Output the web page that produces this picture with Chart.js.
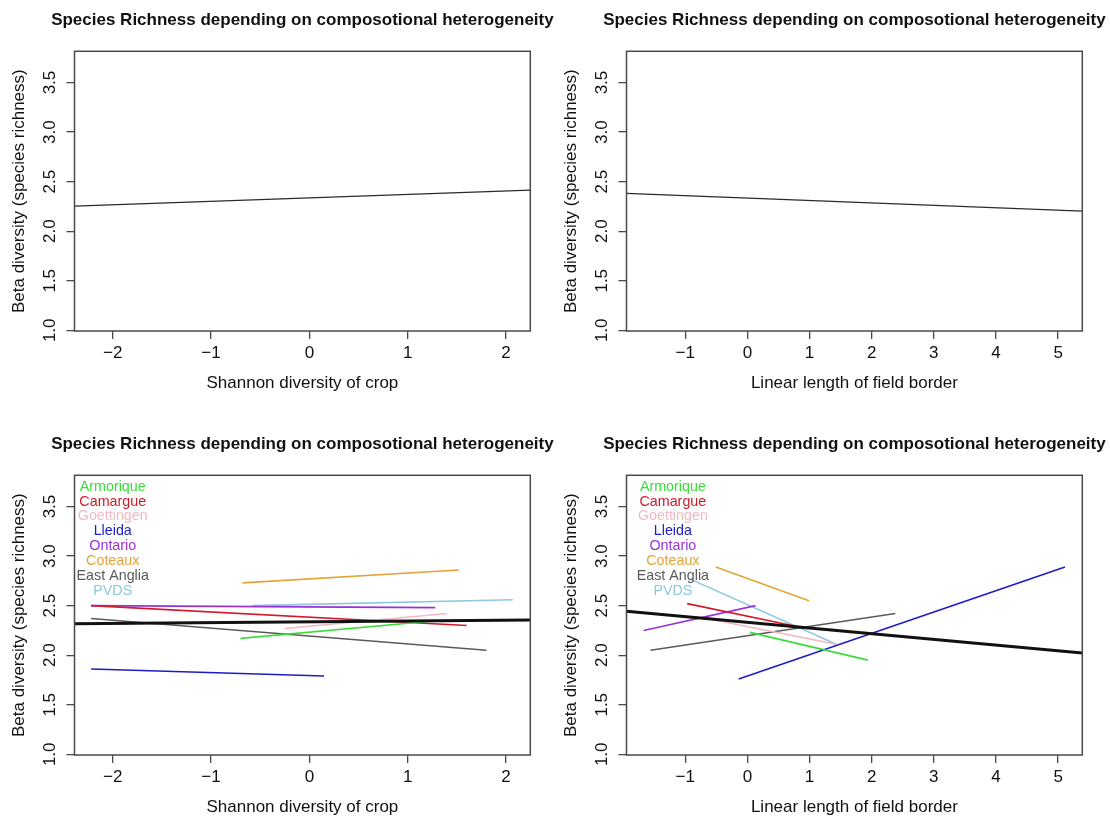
<!DOCTYPE html>
<html>
<head>
    <script src="https://cdn.jsdelivr.net/npm/chart.js@4.4.0/dist/chart.umd.min.js"></script>
    <title>Species Richness</title>
    <style>
        body { margin: 0; background: #fff; overflow: hidden; }
        canvas { position: absolute; }
    </style>
</head>
<body>

<canvas id="panelTL" width="562" height="396" style="left:0;top:0"></canvas>
<canvas id="panelTR" width="558" height="396" style="left:552px;top:0"></canvas>
<canvas id="panelBL" width="562" height="396" style="left:0;top:424px"></canvas>
<canvas id="panelBR" width="558" height="396" style="left:552px;top:424px"></canvas>

<script>
    var mainTitle = 'Species Richness depending on composotional heterogeneity';
    var yTitle = 'Beta diversity (species richness)';
    var cropTitle = 'Shannon diversity of crop';
    var borderTitle = 'Linear length of field border';

    var yTicks = [1.0, 1.5, 2.0, 2.5, 3.0, 3.5];
    var cropTicks = [-2, -1, 0, 1, 2];
    var borderTicks = [-1, 0, 1, 2, 3, 4, 5];

    var siteNames = ['Armorique', 'Camargue', 'Goettingen', 'Lleida', 'Ontario', 'Coteaux', 'East Anglia', 'PVDS'];
    var siteColors = ['#3bdc3b', '#d11a2a', '#f2b8c6', '#1c1cc8', '#9b30d8', '#e3a33a', '#5a5a5a', '#8cc8e0'];
    var labelY = [3.7, 3.55, 3.4, 3.25, 3.1, 2.95, 2.8, 2.65];

    // overall fitted lines (start / end)
    var cropFitX = [-2.389, 2.247];
    var cropFitY = [2.253, 2.414];
    var borderFitX = [-1.946, 5.389];
    var borderFitY = [2.381, 2.203];

    // bottom left: crop diversity, overall + per site
    var cropAllY = [2.316, 2.356];
    var cropSiteX0 = [-0.70, -2.22, -0.25, -2.22, -2.22, -0.68, -2.22, -0.58];
    var cropSiteX1 = [1.20, 1.60, 1.40, 0.15, 1.28, 1.52, 1.80, 2.07];
    var cropSiteY0 = [2.17, 2.50, 2.27, 1.86, 2.50, 2.73, 2.37, 2.50];
    var cropSiteY1 = [2.34, 2.30, 2.42, 1.79, 2.48, 2.86, 2.05, 2.56];

    // bottom right: field border, overall + per site
    var borderAllY = [2.443, 2.022];
    var borderSiteX0 = [0.04, -0.97, -0.66, -0.14, -1.67, -0.51, -1.56, -0.93];
    var borderSiteX1 = [1.94, 0.95, 1.43, 5.11, 0.13, 0.99, 2.38, 1.43];
    var borderSiteY0 = [2.23, 2.52, 2.37, 1.76, 2.25, 2.89, 2.05, 2.77];
    var borderSiteY1 = [1.95, 2.27, 2.11, 2.89, 2.50, 2.55, 2.42, 2.11];

    var fontFamily = '"Liberation Sans", Arial, Helvetica, sans-serif';

    function segment(x, y, color, width) {
        return {
            data: [{x: x[0], y: y[0]}, {x: x[1], y: y[1]}],
            showLine: true,
            borderColor: color,
            borderWidth: width,
            pointRadius: 0
        };
    }

    function siteSegments(x0, x1, y0, y1) {
        var out = [];
        for (var i = 0; i < siteNames.length; i++) {
            out.push(segment([x0[i], x1[i]], [y0[i], y1[i]], siteColors[i], 1.6));
        }
        return out;
    }

    // box, title, rotated y labels and site names, like R draws them
    function decoPlugin(labelX) {
        return {
            id: 'deco',
            afterDraw: function(chart) {
                var ctx = chart.ctx, a = chart.chartArea;
                var xs = chart.scales.x, ys = chart.scales.y;
                ctx.save();
                ctx.strokeStyle = '#4a4a4a';
                ctx.lineWidth = 1.5;
                ctx.strokeRect(a.left, a.top, a.right - a.left, a.bottom - a.top);

                ctx.fillStyle = '#111';
                ctx.textAlign = 'center';
                ctx.textBaseline = 'middle';
                ctx.font = 'bold 17px ' + fontFamily;
                ctx.fillText(mainTitle, (a.left + a.right) / 2, a.top - 31);

                ctx.font = '17px ' + fontFamily;
                yTicks.forEach(function(v) {
                    ctx.save();
                    ctx.translate(a.left - 24, ys.getPixelForValue(v));
                    ctx.rotate(-Math.PI / 2);
                    ctx.fillText(v.toFixed(1), 0, 0);
                    ctx.restore();
                });

                if (labelX !== null) {
                    ctx.font = '14.3px ' + fontFamily;
                    siteNames.forEach(function(n, i) {
                        ctx.fillStyle = siteColors[i];
                        ctx.fillText(n, xs.getPixelForValue(labelX), ys.getPixelForValue(labelY[i]));
                    });
                }
                ctx.restore();
            }
        };
    }

    function makePanel(id, width, xMin, xMax, xTicks, xTitle, datasets, labelX) {
        return new Chart(document.getElementById(id), {
            type: 'scatter',
            data: { datasets: datasets },
            options: {
                responsive: false,
                animation: false,
                layout: { padding: { top: 51.3, right: width - 530.3, bottom: 0, left: 0 } },
                plugins: { legend: { display: false }, tooltip: { enabled: false } },
                scales: {
                    x: {
                        type: 'linear',
                        min: xMin,
                        max: xMax,
                        afterBuildTicks: function(s) { s.ticks = xTicks.map(function(v) { return {value: v}; }); },
                        afterFit: function(s) { s.height = 396 - 331; },
                        grid: { drawOnChartArea: false, drawTicks: true, tickLength: 8, color: '#4a4a4a', lineWidth: 1.3 },
                        border: { display: false },
                        ticks: {
                            color: '#111',
                            font: { size: 17, family: fontFamily },
                            padding: 4,
                            maxRotation: 0,
                            autoSkip: false,
                            callback: function(v) { return v < 0 ? '\u2212' + Math.abs(v) : String(v); }
                        },
                        title: { display: true, text: xTitle, color: '#111', font: { size: 17, family: fontFamily }, padding: { top: 0, bottom: 2.8 } }
                    },
                    y: {
                        type: 'linear',
                        min: 0.993,
                        max: 3.815,
                        afterBuildTicks: function(s) { s.ticks = yTicks.map(function(v) { return {value: v}; }); },
                        afterFit: function(s) { s.width = 74.5; },
                        grid: { drawOnChartArea: false, drawTicks: true, tickLength: 8, color: '#4a4a4a', lineWidth: 1.3 },
                        border: { display: false },
                        ticks: { display: false },
                        title: { display: true, text: yTitle, color: '#111', font: { size: 17, family: fontFamily }, padding: { top: 9.3, bottom: 0 } }
                    }
                }
            },
            plugins: [decoPlugin(labelX)]
        });
    }

    makePanel('panelTL', 562, cropFitX[0], cropFitX[1], cropTicks, cropTitle,
        [segment(cropFitX, cropFitY, '#2a2a2a', 1.3)], null);

    makePanel('panelTR', 558, borderFitX[0], borderFitX[1], borderTicks, borderTitle,
        [segment(borderFitX, borderFitY, '#2a2a2a', 1.3)], null);

    // overall line first so it is drawn on top
    makePanel('panelBL', 562, cropFitX[0], cropFitX[1], cropTicks, cropTitle,
        [segment(cropFitX, cropAllY, '#111', 3)].concat(siteSegments(cropSiteX0, cropSiteX1, cropSiteY0, cropSiteY1)), -2);

    makePanel('panelBR', 558, borderFitX[0], borderFitX[1], borderTicks, borderTitle,
        [segment(borderFitX, borderAllY, '#111', 3)].concat(siteSegments(borderSiteX0, borderSiteX1, borderSiteY0, borderSiteY1)), -1.2);
</script>

</body>
</html>
